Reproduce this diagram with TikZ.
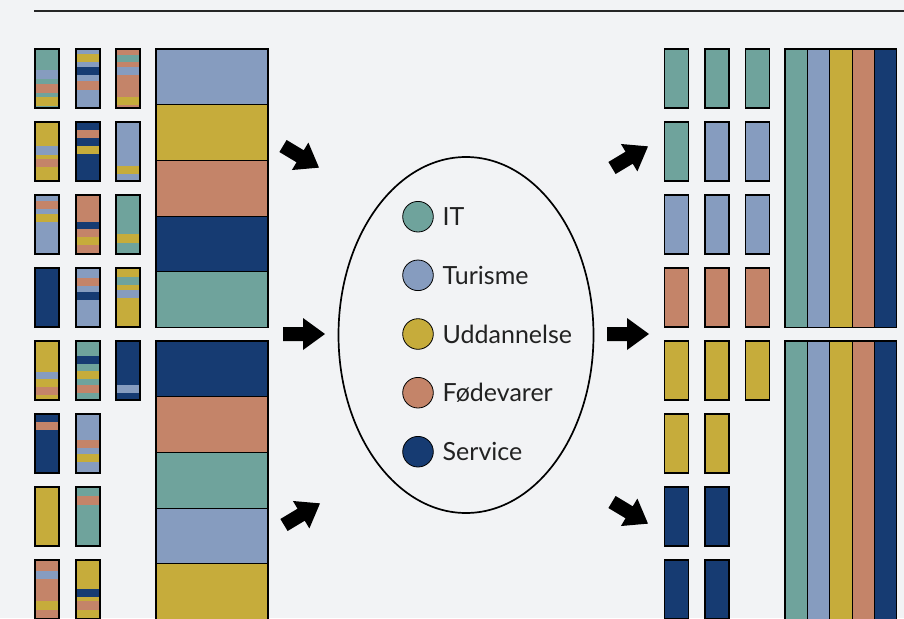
\documentclass[tikz,border=0pt]{standalone}
\usepackage{fontspec}
\setmainfont{Lato}
\usetikzlibrary{shapes.geometric}
\definecolor{bgc}{HTML}{F2F3F5}
\definecolor{cIT}{HTML}{6FA39C}
\definecolor{cTur}{HTML}{869CBF}
\definecolor{cUdd}{HTML}{C6AC3B}
\definecolor{cFod}{HTML}{C48469}
\definecolor{cSer}{HTML}{163B72}
\definecolor{txt}{HTML}{222222}
\tikzset{
  barline/.style={draw=black,line width=1.1pt},
  fatarrow/.style={fill=black},
  legdot/.style={circle,draw=black,line width=0.8pt,minimum size=30.6pt,inner sep=0pt},
  legtext/.style={anchor=west,inner sep=0pt,font=\fontsize{25}{28}\selectfont,text=txt},
}
\newcommand\plainbar[3]{%
  \fill[#3] (#1,#2) rectangle ++(24,59);
  \draw[barline] (#1,#2) rectangle ++(24,59);}
\newcommand\stripebar[4]{%
  \fill[#3] (#1,#2) rectangle ++(24,59);
  \foreach \cc/\aa/\bb in {#4} {\fill[\cc] (#1,#2+\aa) rectangle (#1+24,#2+\bb);}
  \draw[barline] (#1,#2) rectangle ++(24,59);}
\newcommand\bigarrow[3]{%
  \fill[fatarrow,shift={(#1,#2)},rotate=#3] (0,-7) -- (20,-7) -- (20,-16) -- (42,0) -- (20,16) -- (20,7) -- (0,7) -- cycle;}
\begin{document}
\begin{tikzpicture}[x=1pt,y=-1pt]
\useasboundingbox (0,0) rectangle (904,618);
\fill[bgc] (0,0) rectangle (904,618);
\clip (0,0) rectangle (904,618);
\draw[line width=1.3pt,color=black!85] (34,11) -- (904,11);
% left small bars
% row 1
\stripebar{35}{49}{cIT}{cTur/21/30, cFod/35/43.5, cUdd/48/56.5}
\stripebar{76}{49}{cTur}{cUdd/5/13.3, cSer/18.3/26.3, cFod/32.3/40.7}
\stripebar{116}{49}{cFod}{cIT/5.7/13.3, cTur/18.3/26.3, cUdd/48.3/56.3}
% row 2
\stripebar{35}{122}{cUdd}{cTur/24.3/32.7, cFod/36.7/44.7}
\stripebar{76}{122}{cSer}{cFod/8.3/16.3, cUdd/23.7/31.7}
\stripebar{116}{122}{cTur}{cUdd/43.7/51.7}
% row 3
\stripebar{35}{195}{cTur}{cFod/6/14.3, cUdd/19/27.3}
\stripebar{76}{195}{cFod}{cSer/26.7/34.3, cUdd/42/50.3}
\stripebar{116}{195}{cIT}{cUdd/39.3/47.7}
% row 4
\plainbar{35}{268}{cSer}
\stripebar{76}{268}{cTur}{cFod/10/18, cSer/24.3/32.3}
\stripebar{116}{268}{cUdd}{cIT/9/17, cTur/21.7/30}
% row 5
\stripebar{35}{341}{cUdd}{cTur/30.7/38.3, cFod/45.7/53.7}
\stripebar{76}{341}{cIT}{cSer/15/22.7, cUdd/29.7/38, cFod/44/52.3}
\stripebar{116}{341}{cSer}{cTur/44/52.3}
% row 6
\stripebar{35}{414}{cSer}{cFod/8/16}
\stripebar{76}{414}{cTur}{cFod/25.7/34, cUdd/39.7/48}
% row 7
\plainbar{35}{487}{cUdd}
\stripebar{76}{487}{cIT}{cFod/9.3/17.7}
% row 8
\stripebar{35}{560}{cFod}{cTur/10.7/18.7, cUdd/41.3/49.7}
\stripebar{76}{560}{cUdd}{cSer/29/36.7, cFod/41.3/49.7}
% left big column
\foreach \c [count=\i from 0] in {cTur,cUdd,cFod,cSer,cIT} {
  \fill[\c] (156,49+55.7*\i) rectangle (268,49+55.7*\i+55.7);
  \draw[barline] (156,49+55.7*\i) rectangle (268,49+55.7*\i+55.7);}
\foreach \c [count=\i from 0] in {cSer,cFod,cIT,cTur,cUdd} {
  \fill[\c] (156,341+55.7*\i) rectangle (268,341+55.7*\i+55.7);
  \draw[barline] (156,341+55.7*\i) rectangle (268,341+55.7*\i+55.7);}
% right small bars
\plainbar{664.5}{49}{cIT}\plainbar{705}{49}{cIT}\plainbar{745.5}{49}{cIT}
\plainbar{664.5}{122}{cIT}\plainbar{705}{122}{cTur}\plainbar{745.5}{122}{cTur}
\plainbar{664.5}{195}{cTur}\plainbar{705}{195}{cTur}\plainbar{745.5}{195}{cTur}
\plainbar{664.5}{268}{cFod}\plainbar{705}{268}{cFod}\plainbar{745.5}{268}{cFod}
\plainbar{664.5}{341}{cUdd}\plainbar{705}{341}{cUdd}\plainbar{745.5}{341}{cUdd}
\plainbar{664.5}{414}{cUdd}\plainbar{705}{414}{cUdd}
\plainbar{664.5}{487}{cSer}\plainbar{705}{487}{cSer}
\plainbar{664.5}{560}{cSer}\plainbar{705}{560}{cSer}
% right big stacks
\foreach \c [count=\i from 0] in {cIT,cTur,cUdd,cFod,cSer} {
  \fill[\c] (785+22.35*\i,49) rectangle (785+22.35*\i+22.35,327.5);
  \draw[barline] (785+22.35*\i,49) rectangle (785+22.35*\i+22.35,327.5);
  \fill[\c] (785+22.35*\i,341) rectangle (785+22.35*\i+22.35,630);
  \draw[barline] (785+22.35*\i,341) rectangle (785+22.35*\i+22.35,630);}
% arrows
\bigarrow{283}{146}{-31}
\bigarrow{283}{334}{0}
\bigarrow{284}{525}{31}
\bigarrow{612}{168}{31}
\bigarrow{607}{334}{0}
\bigarrow{612}{502}{-31}
% ellipse legend
\node[draw=black,line width=1.7pt,ellipse,minimum width=255pt,minimum height=356pt,inner sep=0pt] (ell) at (466,335) {};
\node[legdot,fill=cIT] (dIT) at (418,216.7) {};
\node[legdot,fill=cTur] (dTur) at (418,275.3) {};
\node[legdot,fill=cUdd] (dUdd) at (418,334) {};
\node[legdot,fill=cFod] (dFod) at (418,392.7) {};
\node[legdot,fill=cSer] (dSer) at (418,451.7) {};
\node[legtext] (tIT) at (442.5,216.7) {IT};
\node[legtext] (tTur) at (442.5,275.3) {Turisme};
\node[legtext] (tUdd) at (442.5,334) {Uddannelse};
\node[legtext] (tFod) at (442.5,392.7) {Fødevarer};
\node[legtext] (tSer) at (442.5,451.7) {Service};
\end{tikzpicture}
\end{document}
